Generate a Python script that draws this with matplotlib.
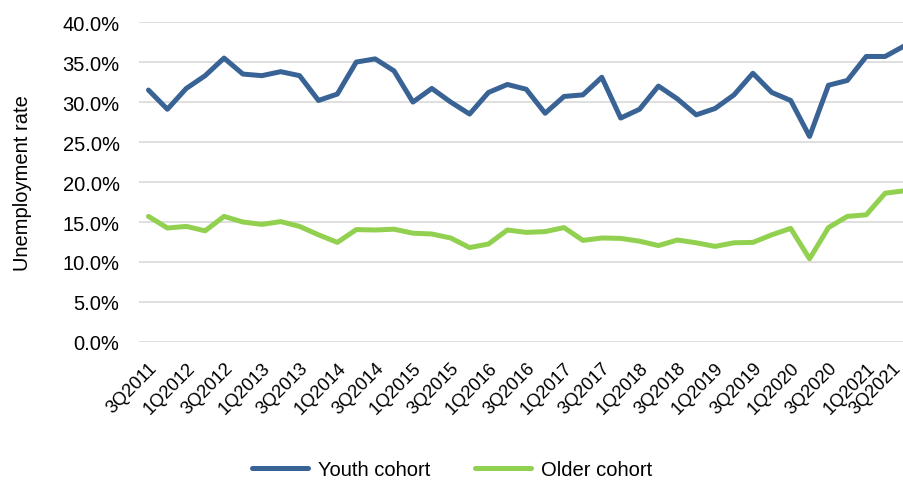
import matplotlib.pyplot as plt
from matplotlib.ticker import FuncFormatter

plt.rcParams['font.family'] = ['Liberation Sans', 'DejaVu Sans']

# quarterly rates, 3Q2011 .. 3Q2021
quarters = [f"{q}Q{y}" for y in range(2011, 2022) for q in (1, 2, 3, 4)][2:43]

youth = [31.5, 29.1, 31.7, 33.3, 35.5, 33.5, 33.3, 33.8, 33.3, 30.2,
         31.0, 35.0, 35.4, 33.9, 30.0, 31.7, 30.0, 28.5, 31.2, 32.2,
         31.6, 28.6, 30.7, 30.9, 33.1, 28.0, 29.1, 32.0, 30.4, 28.4,
         29.2, 30.9, 33.6, 31.2, 30.2, 25.7, 32.1, 32.7, 35.7, 35.7,
         37.0]
older = [15.7, 14.25, 14.45, 13.9, 15.7, 15.0, 14.7, 15.05, 14.45, 13.4,
         12.45, 14.05, 14.0, 14.1, 13.6, 13.5, 13.0, 11.8, 12.25, 14.0,
         13.7, 13.8, 14.3, 12.7, 13.0, 12.95, 12.6, 12.05, 12.75, 12.4,
         11.95, 12.4, 12.45, 13.4, 14.2, 10.4, 14.3, 15.7, 15.9, 18.6,
         18.9]

yticks = [0, 5, 10, 15, 20, 25, 30, 35, 40]

FS = 14.5
XFS = 13.2
XPAD = 12

fig = plt.figure(figsize=(9.04, 4.81), dpi=100)
ax = fig.add_axes([0.1538, 0.287, 0.8462, 0.665])

x = list(range(len(quarters)))
ax.plot(x, youth, color='#3A6395', lw=3.6, solid_joinstyle='round',
        solid_capstyle='round', label='Youth cohort')
ax.plot(x, older, color='#92D050', lw=3.6, solid_joinstyle='round',
        solid_capstyle='round', label='Older cohort')

ax.set_xlim(-0.5, len(quarters) - 1)
ax.set_ylim(0, 40)
ax.set_yticks(yticks)
ax.yaxis.set_major_formatter(FuncFormatter(lambda v, _: f"{v:.1f}%"))

# every other quarter labelled; the last one is placed by hand so it
# stays inside the figure
ticks = x[::2]
labels = quarters[::2]
ax.set_xticks(ticks)
ax.set_xticklabels(labels[:-1] + [''], rotation=45, ha='right',
                   rotation_mode='anchor', fontsize=XFS)
ax.annotate(labels[-1], xy=(ticks[-1], 0), xycoords=('data', 'axes fraction'),
            xytext=(-8.5, -XPAD), textcoords='offset points', rotation=45,
            ha='right', va='top', rotation_mode='anchor', fontsize=XFS,
            annotation_clip=False)

ax.tick_params(axis='y', labelsize=FS, length=0, pad=14)
ax.tick_params(axis='x', length=0, pad=XPAD)

ax.grid(axis='y', color='#D9D9D9', lw=1.2)
ax.set_axisbelow(True)
for s in ax.spines.values():
    s.set_visible(False)

ax.set_ylabel('Unemployment rate', fontsize=FS)
ax.yaxis.set_label_coords(-0.14, 0.5)

fig.legend(loc='center', bbox_to_anchor=(0.5, 0.022), ncol=2, frameon=False,
           fontsize=FS, handlelength=2.8, columnspacing=2.2, handletextpad=0.5)

fig.savefig('out.png', dpi=100)
